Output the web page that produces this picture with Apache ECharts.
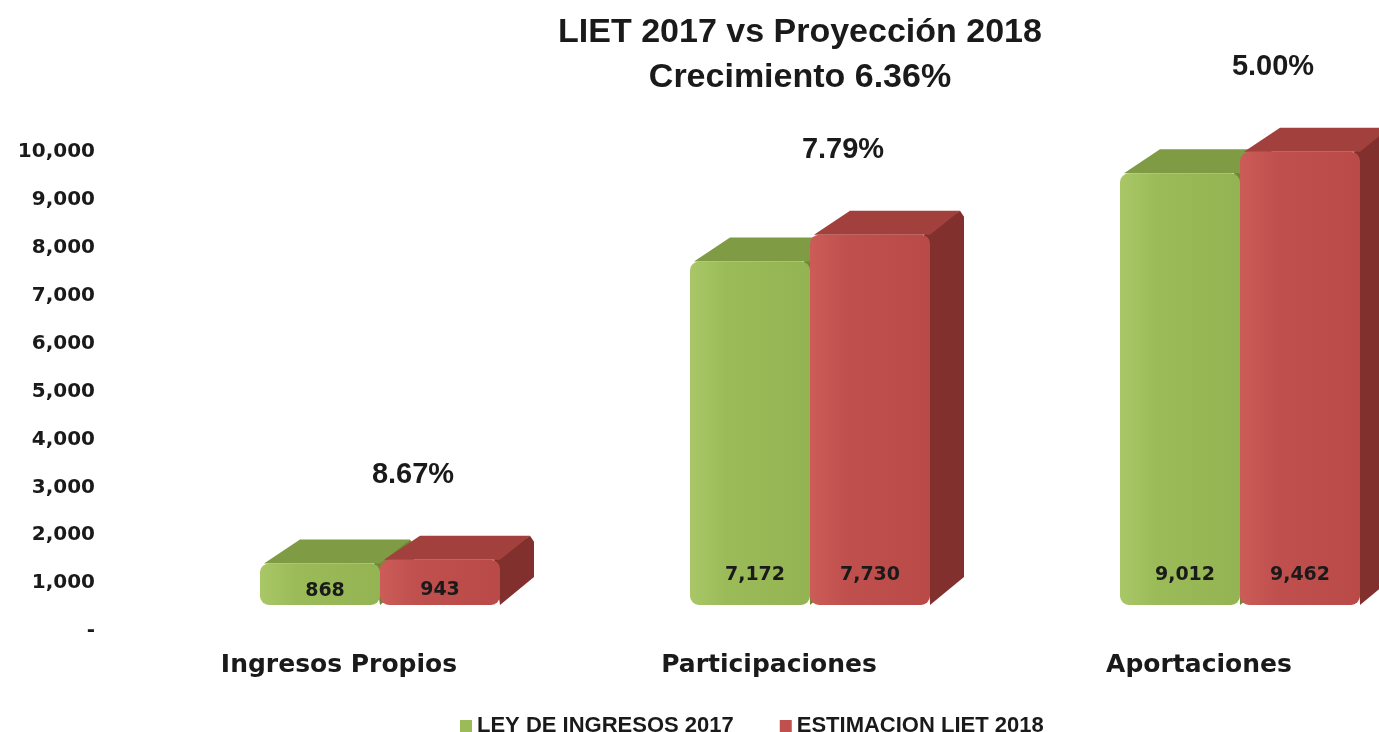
<!DOCTYPE html>
<html>
<head>
<meta charset="utf-8">
<script src="https://cdn.jsdelivr.net/npm/echarts@6/dist/echarts.min.js"></script>
<style>
html, body { margin: 0; padding: 0; background: #fff; }
#mychart { width: 1379px; height: 732px; }
</style>
</head>
<body>
<div id="mychart"></div>
<script>
var categories = ['Ingresos Propios', 'Participaciones', 'Aportaciones'];
var ley2017 = [868, 7172, 9012];
var estim2018 = [943, 7730, 9462];
var crecimiento = ['8.67%', '7.79%', '5.00%'];
var seriesNames = ['LEY DE INGRESOS 2017', 'ESTIMACION LIET 2018'];

// colores de las caras (frente, arriba, lado)
var colores = [
    { front: ['#a9c766', '#9bbb59', '#94b453'], top: '#7f9c44', side: '#6c8834', base: '#9bbb59' },
    { front: ['#cc5c58', '#c0504d', '#b94a47'], top: '#a2403d', side: '#82302e', base: '#c0504d' }
];

var barW = 120, depthX = 34, depthY = -24, shiftY = 26, pairOffset = 76;

function makeRender(s) {
    return function (params, api) {
        var idx = api.value(0);
        var val = api.value(1);
        var top = api.coord([idx, val]);
        var bot = api.coord([idx, 0]);
        var x0 = top[0] + pairOffset - barW + s * barW;
        var yT = top[1] - shiftY;
        var yB = bot[1] - shiftY;
        var h = yB - yT;
        var c = colores[s];
        var children = [
            {
                type: 'polygon',
                shape: { points: [[x0 + barW - 6, yT], [x0 + barW + depthX - 4, yT + depthY], [x0 + barW + depthX, yT + depthY + 6], [x0 + barW + depthX, yB + depthY - 4], [x0 + barW, yB]] },
                style: { fill: c.side }
            },
            {
                type: 'polygon',
                shape: { points: [[x0 + 4, yT], [x0 + depthX + 6, yT + depthY], [x0 + barW + depthX - 4, yT + depthY], [x0 + barW, yT]] },
                style: { fill: c.top }
            },
            {
                type: 'rect',
                shape: { x: x0, y: yT, width: barW, height: h, r: 9 },
                style: {
                    fill: new echarts.graphic.LinearGradient(0, 0, 1, 0, [
                        { offset: 0, color: c.front[0] },
                        { offset: 0.3, color: c.front[1] },
                        { offset: 1, color: c.front[2] }
                    ])
                }
            },
            {
                type: 'text',
                style: {
                    text: echarts.format.addCommas(val),
                    x: x0 + barW / 2 + (s === 0 ? 5 : 0),
                    y: yB - Math.min(30, h * 0.33),
                    align: 'center',
                    verticalAlign: 'middle',
                    fill: '#1a1a1a',
                    font: 'bold 19px "DejaVu Sans"'
                }
            }
        ];
        if (s === 1) {
            children.push({
                type: 'text',
                style: {
                    text: crecimiento[idx],
                    x: x0 + 33,
                    y: yT - 85,
                    align: 'center',
                    verticalAlign: 'middle',
                    fill: '#1a1a1a',
                    font: 'bold 29px "Liberation Sans"'
                }
            });
        }
        return { type: 'group', children: children };
    };
}

function buildData(arr) {
    var d = [];
    for (var i = 0; i < arr.length; i++) {
        d.push([i, arr[i]]);
    }
    return d;
}

var myChart = echarts.init(document.getElementById('mychart'));
myChart.setOption({
    animation: false,
    title: {
        text: 'LIET 2017 vs Proyección 2018\nCrecimiento 6.36%',
        left: 795,
        top: 5,
        textAlign: 'center',
        textStyle: {
            fontFamily: 'Liberation Sans',
            fontWeight: 'bold',
            fontSize: 34,
            lineHeight: 45,
            color: '#1a1a1a'
        }
    },
    legend: {
        data: [
            { name: seriesNames[0], itemStyle: { color: colores[0].base } },
            { name: seriesNames[1], itemStyle: { color: colores[1].base } }
        ],
        left: 455,
        top: 710,
        icon: 'rect',
        itemWidth: 12,
        itemHeight: 12,
        itemGap: 46,
        textStyle: {
            fontFamily: 'Liberation Sans',
            fontWeight: 'bold',
            fontSize: 22,
            lineHeight: 22,
            color: '#1a1a1a'
        }
    },
    grid: {
        left: 89,
        right: 0,
        top: 152,
        bottom: 101
    },
    xAxis: {
        type: 'category',
        data: categories,
        axisLine: { show: false },
        axisTick: { show: false },
        axisLabel: {
            margin: 22,
            padding: [0, 0, 0, 70],
            fontFamily: 'DejaVu Sans',
            fontWeight: 'bold',
            fontSize: 25,
            color: '#1a1a1a'
        }
    },
    yAxis: {
        type: 'value',
        min: 0,
        max: 10000,
        interval: 1000,
        offset: -6,
        axisLine: { show: false },
        axisTick: { show: false },
        splitLine: { show: false },
        axisLabel: {
            margin: 0,
            fontFamily: 'DejaVu Sans',
            fontWeight: 'bold',
            fontSize: 20,
            color: '#1a1a1a',
            formatter: function (v) {
                return v === 0 ? '-' : echarts.format.addCommas(v);
            }
        }
    },
    series: [
        {
            name: seriesNames[0],
            type: 'custom',
            clip: false,
            renderItem: makeRender(0),
            itemStyle: { color: colores[0].base },
            data: buildData(ley2017)
        },
        {
            name: seriesNames[1],
            type: 'custom',
            clip: false,
            renderItem: makeRender(1),
            itemStyle: { color: colores[1].base },
            data: buildData(estim2018)
        }
    ]
});
</script>
</body>
</html>
